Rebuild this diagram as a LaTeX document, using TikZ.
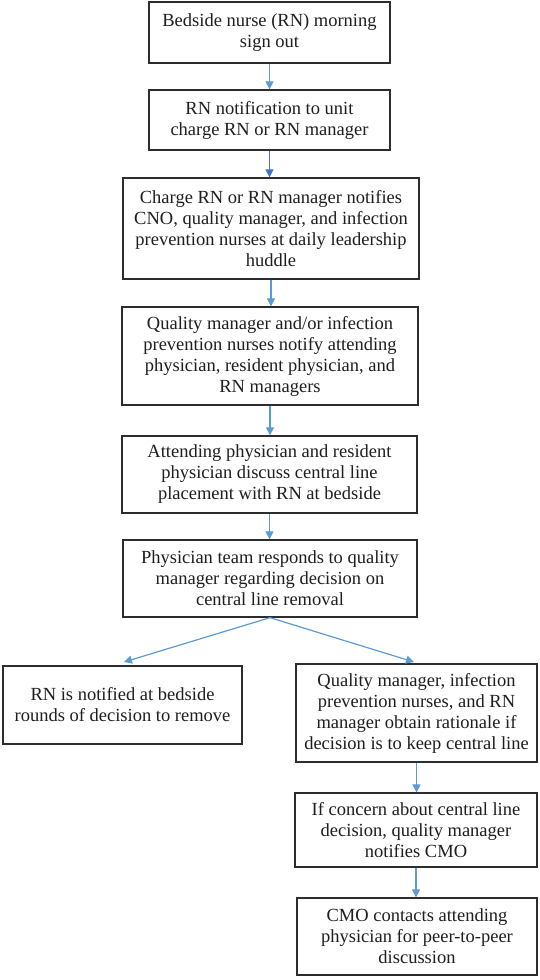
\documentclass[tikz,border=0pt]{standalone}
\usepackage{fontspec}
\setmainfont{Liberation Serif}
\usetikzlibrary{arrows.meta}
\definecolor{arrblue}{RGB}{91,155,213}
\definecolor{arrdark}{RGB}{68,114,196}
\definecolor{boxline}{RGB}{45,45,45}
\definecolor{txt}{RGB}{30,30,30}
\begin{document}
\begin{tikzpicture}[x=1pt,y=-1pt,
  box/.style={draw=boxline, line width=1.3pt, rectangle, align=center, inner sep=0pt,
    text=txt, font=\fontsize{18.5}{21}\selectfont},
  arr/.style={draw=arrblue, line width=1.2pt, -{Triangle[length=8pt,width=8pt]}}]
\useasboundingbox (0,0) rectangle (540,980);
\node[box, minimum width=241pt, minimum height=61pt] (b1) at (269.5,32.5) {Bedside nurse (RN) morning\\sign out};
\node[box, minimum width=241pt, minimum height=60pt] (b2) at (269.5,120) {RN notification to unit\\charge RN or RN manager};
\node[box, minimum width=296pt, minimum height=101pt] (b3) at (271,228.5) {Charge RN or RN manager notifies\\CNO, quality manager, and infection\\prevention nurses at daily leadership\\huddle};
\node[box, minimum width=296pt, minimum height=98pt] (b4) at (270,356) {Quality manager and/or infection\\prevention nurses notify attending\\physician, resident physician, and\\RN managers};
\node[box, minimum width=295pt, minimum height=77pt] (b5) at (269.5,474.5) {Attending physician and resident\\physician discuss central line\\placement with RN at bedside};
\node[box, minimum width=294pt, minimum height=77pt] (b6) at (270,578.5) {Physician team responds to quality\\manager regarding decision on\\central line removal};
\node[box, minimum width=239pt, minimum height=78pt] (b7) at (122.5,705) {RN is notified at bedside\\rounds of decision to remove};
\node[box, minimum width=241pt, minimum height=98pt] (b8) at (416.5,713) {Quality manager, infection\\prevention nurses, and RN\\manager obtain rationale if\\decision is to keep central line};
\node[box, minimum width=242pt, minimum height=74pt] (b9) at (416,830) {If concern about central line\\decision, quality manager\\notifies CMO};
\node[box, minimum width=240pt, minimum height=77pt] (b10) at (417,936.5) {CMO contacts attending\\physician for peer-to-peer\\discussion};
\coordinate (c7) at (124,662);
\coordinate (c8) at (414,662);
\draw[arr] (b1.south) -- (b2.north);
\draw[arr, draw=arrdark] (b2.south) -- (b2.south |- b3.north);
\draw[arr] (b3.south) -- (b3.south |- b4.north);
\draw[arr] (b4.south) -- (b4.south |- b5.north);
\draw[arr] (b5.south) -- (b5.south |- b6.north);
\draw[arr] (b6.south) -- (c7);
\draw[arr] (b6.south) -- (c8);
\draw[arr] (b8.south) -- (b8.south |- b9.north);
\draw[arr] (b9.south) -- (b9.south |- b10.north);
\end{tikzpicture}
\end{document}
